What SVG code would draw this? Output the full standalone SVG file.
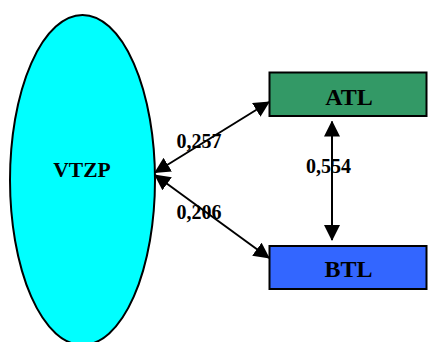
<svg xmlns="http://www.w3.org/2000/svg" width="428" height="342" viewBox="0 0 428 342">
<style>
.t{font-family:"Liberation Serif","Times New Roman",serif;font-weight:bold;fill:#000}
.n{font-size:24px;text-anchor:middle}
.l{font-size:20px}
.c{stroke:#000;stroke-width:2;fill:none;marker-start:url(#ah);marker-end:url(#ah)}
</style>
<defs>
<marker id="ah" markerUnits="userSpaceOnUse" markerWidth="16" markerHeight="16" refX="15" refY="8" orient="auto-start-reverse">
<path d="M0,0 L16,8 L0,16 z" fill="#000"/>
</marker>
</defs>
<rect width="428" height="342" fill="#fff"/>
<g id="VTZP">
<ellipse cx="82.5" cy="180" rx="72.5" ry="165" fill="#00FFFF" stroke="#000" stroke-width="2"/>
<text class="t" x="82" y="176.5" font-size="21.5" text-anchor="middle">VTZP</text>
</g>
<g id="ATL">
<rect x="269.5" y="72.5" width="157" height="43.5" fill="#339966" stroke="#000" stroke-width="2"/>
<text class="t n" x="349" y="104.5">ATL</text>
</g>
<g id="BTL">
<rect x="269.5" y="246" width="157" height="43" fill="#3366FF" stroke="#000" stroke-width="2"/>
<text class="t n" x="348.5" y="277">BTL</text>
</g>
<g id="connectors">
<line class="c" x1="155" y1="172.5" x2="269" y2="102"/>
<line class="c" x1="155" y1="175" x2="269" y2="258"/>
<line class="c" x1="332" y1="121.5" x2="332" y2="240"/>
<text class="t l" x="176.5" y="147.5">0,257</text>
<text class="t l" x="176.5" y="219">0,206</text>
<text class="t l" x="306" y="172.5">0,554</text>
</g>
</svg>
